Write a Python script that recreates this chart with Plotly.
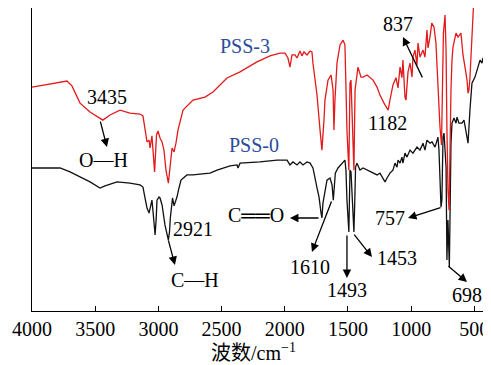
import plotly.graph_objects as go

# PSS-3 (red) : wavenumber (cm-1) and relative transmittance
pss3_wn = [4000, 3858, 3723, 3684, 3620, 3541, 3440, 3383, 3304, 3225, 3146, 3122, 3106, 3090,
           3074, 3066, 3051, 3030, 3015, 3003, 2987, 2971, 2956, 2940, 2921, 2908, 2892, 2876,
           2861, 2845, 2805, 2726, 2631, 2568, 2457, 2354, 2220, 2117, 2038, 1998, 1975, 1959,
           1943, 1919, 1903, 1880, 1864, 1848, 1824, 1800, 1785, 1777, 1745, 1721, 1706, 1690,
           1682, 1658, 1634, 1618, 1611, 1603, 1587, 1563, 1539, 1524, 1516, 1508, 1493, 1484,
           1476, 1468, 1453, 1444, 1429, 1421, 1397, 1381, 1349, 1326, 1302, 1270, 1247, 1215,
           1182, 1168, 1144, 1120, 1104, 1088, 1073, 1065, 1049, 1041, 1025, 1009, 993, 986,
           970, 954, 946, 930, 906, 891, 875, 867, 851, 837, 819, 804, 788, 772, 760, 752,
           745, 732, 724, 717, 709, 700, 693, 685, 677, 669, 645, 629, 606, 590, 574, 558,
           550, 543, 535, 519, 511, 503, 487, 455, 400]
pss3_t = [73.9, 74.9, 75.9, 74.3, 68.6, 65.7, 63.0, 64.7, 66.3, 65.3, 65.0, 64.4, 60.7, 55.8,
          56.4, 53.8, 57.8, 45.9, 58.1, 59.4, 57.1, 55.8, 53.1, 46.5, 42.2, 48.2, 53.8, 52.5,
          55.4, 59.7, 66.3, 69.6, 70.6, 72.3, 76.9, 78.9, 82.2, 84.2, 85.1, 85.1, 83.5, 80.5,
          84.5, 84.5, 83.5, 85.8, 84.2, 85.5, 84.5, 85.8, 85.5, 81.8, 71.3, 59.7, 53.1, 63.0,
          69.6, 76.2, 77.9, 72.9, 59.7, 69.6, 81.8, 87.8, 89.4, 87.8, 76.2, 59.7, 46.5, 75.2,
          76.2, 66.3, 46.5, 72.9, 78.5, 80.5, 77.2, 77.2, 77.9, 77.2, 76.2, 73.9, 71.3, 68.6,
          66.3, 69.6, 74.6, 77.0, 73.6, 80.5, 77.0, 82.8, 70.6, 69.6, 78.9, 81.8, 77.2, 83.8,
          86.1, 81.2, 88.4, 83.8, 86.1, 83.8, 92.7, 86.8, 90.4, 95.0, 93.7, 88.4, 73.0, 60.7,
          54.8, 73.0, 91.7, 97.7, 86.1, 60.0, 39.9, 33.3, 56.4, 73.0, 82.8, 87.1, 91.7, 90.4,
          91.7, 84.5, 80.5, 76.2, 71.9, 72.9, 76.9, 91.7, 99.3, 104, 109, 112, 113]

# PSS-0 (black)
pss0_wn = [4000, 3897, 3778, 3699, 3620, 3541, 3462, 3422, 3327, 3225, 3146, 3122, 3106, 3090,
           3074, 3058, 3051, 3040, 3026, 3018, 3011, 2995, 2987, 2971, 2964, 2948, 2921, 2912,
           2905, 2895, 2888, 2876, 2869, 2853, 2837, 2821, 2774, 2726, 2671, 2592, 2536, 2433,
           2378, 2370, 2354, 2196, 2062, 1982, 1959, 1935, 1903, 1880, 1856, 1824, 1800, 1777,
           1745, 1729, 1713, 1706, 1698, 1682, 1666, 1642, 1626, 1616, 1608, 1600, 1579, 1547,
           1524, 1516, 1508, 1493, 1488, 1484, 1476, 1468, 1453, 1446, 1440, 1429, 1405, 1381,
           1349, 1310, 1270, 1247, 1207, 1191, 1168, 1144, 1128, 1112, 1104, 1088, 1073, 1065,
           1049, 1033, 1009, 986, 954, 930, 906, 891, 875, 851, 835, 811, 796, 788, 780, 772,
           764, 757, 748, 740, 724, 717, 709, 698, 693, 685, 677, 661, 645, 637, 622, 598,
           582, 574, 558, 550, 535, 519, 495, 479, 455, 440, 432, 416, 400]
pss0_t = [47.2, 47.2, 47.2, 45.9, 44.2, 42.6, 40.6, 41.3, 42.6, 42.2, 41.6, 40.9, 37.3, 34.0,
          32.3, 35.0, 36.6, 31.7, 25.1, 30.0, 36.6, 37.6, 37.3, 35.0, 33.3, 28.4, 23.4, 26.1,
          31.0, 36.6, 37.3, 34.7, 35.6, 37.6, 40.6, 43.2, 44.9, 44.9, 45.2, 45.5, 46.5, 47.9,
          48.2, 47.2, 48.8, 49.2, 49.8, 49.8, 48.2, 49.2, 48.2, 49.2, 48.2, 49.2, 48.8, 47.2,
          40.6, 37.6, 32.3, 30.7, 35.6, 39.3, 43.2, 43.9, 41.6, 36.6, 39.9, 45.5, 47.2, 48.8,
          49.8, 46.5, 36.6, 26.1, 33.3, 46.5, 45.9, 36.6, 26.1, 36.6, 47.5, 48.8, 46.5, 47.2,
          46.5, 45.9, 44.9, 45.5, 42.6, 43.9, 45.5, 46.5, 48.8, 47.5, 49.8, 48.8, 50.8, 48.8,
          52.1, 50.8, 53.1, 52.1, 54.1, 53.1, 55.4, 53.1, 56.4, 55.4, 55.8, 54.1, 56.4, 57.4,
          53.1, 39.9, 34.3, 36.6, 57.4, 58.7, 47.5, 16.8, 30.0, 14.5, 38.9, 55.4, 62.0, 63.7,
          62.0, 64.0, 62.0, 62.0, 63.0, 60.7, 56.4, 55.4, 66.3, 75.2, 77.2, 79.5, 82.8, 81.8,
          83.5, 82.8, 83.8]

tick_vals = [4000, 3500, 3000, 2500, 2000, 1500, 1000, 500]
x_title = "波数/cm<sup>−1</sup>"

SERIF = "Liberation Serif, DejaVu Serif, Noto Sans CJK SC"
FS = 20

fig = go.Figure()
fig.add_trace(go.Scatter(x=pss0_wn, y=pss0_t, mode="lines",
                         line=dict(color="#111111", width=1.3), name="PSS-0"))
fig.add_trace(go.Scatter(x=pss3_wn, y=pss3_t, mode="lines",
                         line=dict(color="#e31a1c", width=1.3), name="PSS-3"))

blue = "#2b4c9b"
texts = [
    ("PSS-3", 2315, 87.5, blue),
    ("PSS-0", 2244, 54.8, blue),
    ("3435", 3407, 70.6, "black"),
    ("O—H", 3438, 49.8, "black"),
    ("2921", 2726, 27.1, "black"),
    ("C—H", 2710, 10.2, "black"),
    ("C══O", 2228, 31.7, "black"),
    ("1610", 1800, 14.5, "black"),
    ("1493", 1508, 6.9, "black"),
    ("1453", 1112, 17.5, "black"),
    ("757", 1168, 30.7, "black"),
    ("698", 558, 5.3, "black"),
    ("837", 1104, 94.7, "black"),
    ("1182", 1191, 62.0, "black"),
]
for t, x, y, c in texts:
    fig.add_annotation(x=x, y=y, text=t, showarrow=False,
                       font=dict(family=SERIF, size=FS, color=c),
                       xanchor="center", yanchor="middle")

# arrows: (head_x, head_y, tail_x, tail_y)
arrows = [
    (3407, 54.1, 3462, 63.0),
    (2869, 15.2, 2924, 23.8),
    (1959, 30.7, 1721, 30.7),
    (1785, 19.5, 1626, 36.6),
    (1508, 10.9, 1508, 25.4),
    (1310, 17.8, 1460, 25.7),
    (1025, 30.7, 756, 34.3),
    (558, 9.6, 717, 15.2),
    (1065, 90.4, 906, 76.6),
]
for hx, hy, tx, ty in arrows:
    fig.add_annotation(x=hx, y=hy, ax=tx, ay=ty, xref="x", yref="y", axref="x", ayref="y",
                       text="", showarrow=True, arrowhead=2, arrowsize=1.3, arrowwidth=1.3,
                       arrowcolor="black", standoff=0, startstandoff=0)

# axis title
fig.add_annotation(x=0.486, y=-0.135, xref="paper", yref="paper", text=x_title,
                   showarrow=False, xanchor="center", yanchor="middle",
                   font=dict(family=SERIF, size=FS, color="black"))

# page body has an 8px margin; figure size/margins compensate for it
fig.update_layout(
    width=483, height=357,
    margin=dict(l=24, r=4, t=0, b=54, autoexpand=False),
    paper_bgcolor="white", plot_bgcolor="white",
    showlegend=False,
    font=dict(family=SERIF, size=FS, color="black"),
)
fig.update_xaxes(range=[4000, 400], tickvals=tick_vals, ticks="inside", ticklen=5,
                 tickwidth=1.2, tickcolor="black", showline=True, linecolor="black",
                 linewidth=1.2, mirror=True, showgrid=False, zeroline=False,
                 automargin=False,
                 tickfont=dict(family=SERIF, size=FS, color="black"))
fig.update_yaxes(range=[0, 100], showticklabels=False, ticks="", showline=True,
                 linecolor="black", linewidth=1.2, mirror=True, showgrid=False,
                 zeroline=False, automargin=False)

fig.write_html("out.html")
